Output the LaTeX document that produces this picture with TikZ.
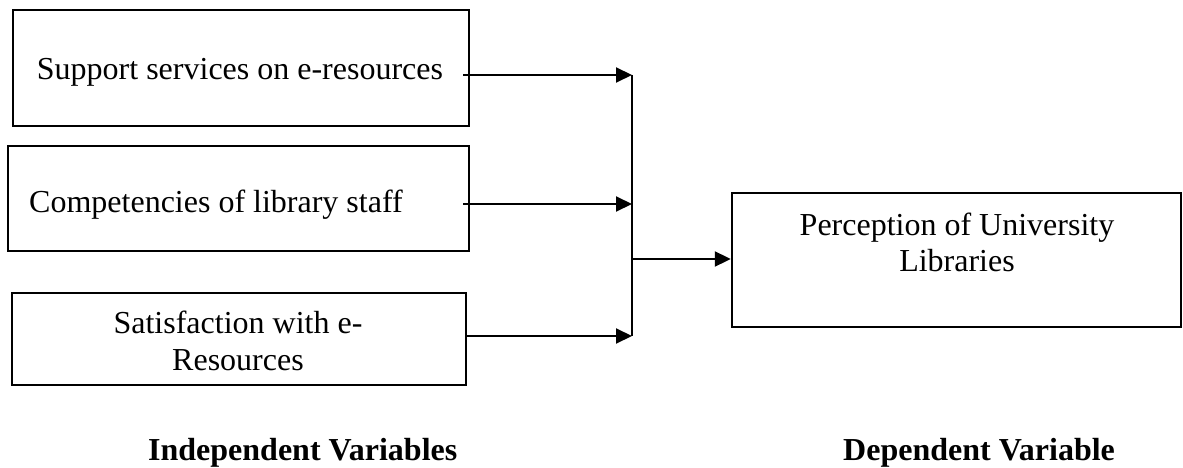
\documentclass[tikz,border=0pt]{standalone}
\usepackage{fontspec}
\setmainfont{Liberation Serif}
\usetikzlibrary{arrows.meta}
\begin{document}
\begin{tikzpicture}[x=1pt,y=1pt,
  boxst/.style={draw, line width=2.4pt, rectangle, inner sep=0pt},
  txt/.style={font=\fontsize{32}{37}\selectfont, inner sep=0pt, anchor=base},
  lbl/.style={font=\fontsize{32}{37}\selectfont\bfseries, inner sep=0pt, anchor=base west},
  arr/.style={line width=2pt, -{Triangle[length=16pt,width=15pt]}},
  joinline/.style={line width=1.6pt}]
\useasboundingbox (0,0) rectangle (1183,467);
% boxes
\node[boxst, minimum width=456pt, minimum height=116pt] (b1) at (241,399) {};
\node[boxst, minimum width=461pt, minimum height=105pt] (b2) at (238.5,268.5) {};
\node[boxst, minimum width=454pt, minimum height=92pt] (b3) at (239,128) {};
\node[boxst, minimum width=449pt, minimum height=134pt] (b4) at (956.5,207) {};
% texts
\node[txt] (t1) at (240,387) {Support services on e-resources};
\node[txt, anchor=base west] (t2) at (29,255) {Competencies of library staff};
\node[txt] (t3a) at (238,134) {Satisfaction with e-};
\node[txt] (t3b) at (238,97) {Resources};
\node[txt] (t4a) at (957,232) {Perception of University};
\node[txt] (t4b) at (957,196) {Libraries};
\node[lbl] (l1) at (148,7) {Independent Variables};
\node[lbl] (l2) at (843,7) {Dependent Variable};
% connector points
\coordinate (s1) at (463,392);
\coordinate (s2) at (463,263);
\coordinate (s3) at (b3.east |- 0,131);
\coordinate (e1) at (632,392);
\coordinate (e2) at (632,263);
\coordinate (e3) at (632,131);
\coordinate (m) at (632,208);
\draw[arr] (s1) -- (e1);
\draw[arr] (s2) -- (e2);
\draw[arr] (s3) -- (e3);
\draw[joinline] (e1) -- (e3);
\draw[arr] (m) -- (m -| b4.west);
\end{tikzpicture}
\end{document}
